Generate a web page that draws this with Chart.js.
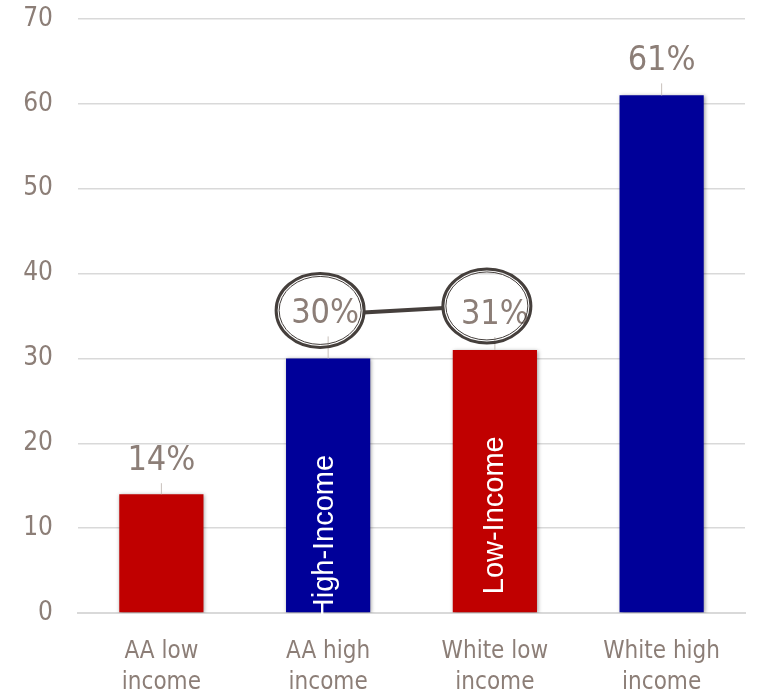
<!DOCTYPE html>
<html>
<head>
<meta charset="utf-8">
<script src="https://cdn.jsdelivr.net/npm/chart.js@4.4.1/dist/chart.umd.min.js"></script>
<style>
  html, body { margin: 0; padding: 0; background: #fff; }
  #wrap { width: 757px; height: 691px; }
</style>
</head>
<body>
<div id="wrap"><canvas id="myChart" width="757" height="691"></canvas></div>
<script>
// DATA

const categories = [["AA low", "income"], ["AA high", "income"], ["White low", "income"], ["White high", "income"]];
const shares = [14, 30, 31, 61];
const barColors = ["#c00000", "#000099", "#c00000", "#000099"];
const yTicks = [0, 10, 20, 30, 40, 50, 60, 70];
const barNotes = ["", "High-Income", "Low-Income", ""];
const circled = [1, 2];

const textColor = "#8c7e77";
const narrow = "'Liberation Sans Narrow', 'DejaVu Sans Condensed', sans-serif";

// PLUGINS

// soft shadow under the bars
const barShadow = {
  id: "barShadow",
  beforeDatasetDraw(chart) {
    const ctx = chart.ctx;
    ctx.save();
    ctx.shadowColor = "rgba(0,0,0,0.4)";
    ctx.shadowBlur = 4;
    ctx.shadowOffsetX = 1;
    ctx.shadowOffsetY = 1;
  },
  afterDatasetDraw(chart) {
    chart.ctx.restore();
  }
};

// value labels above the bars, with a small leader tick
const valueLabels = {
  id: "valueLabels",
  afterDatasetsDraw(chart, args, opts) {
    const ctx = chart.ctx;
    const bars = chart.getDatasetMeta(0).data;
    ctx.save();
    bars.forEach((bar, i) => {
      const lift = opts.lift[i];
      ctx.strokeStyle = "#c8c0bb";
      ctx.lineWidth = 1;
      ctx.beginPath();
      ctx.moveTo(bar.x, bar.y - (lift - 22));
      ctx.lineTo(bar.x, bar.y);
      ctx.stroke();

      ctx.fillStyle = textColor;
      ctx.font = "34px " + narrow;
      ctx.textAlign = "center";
      ctx.textBaseline = "middle";
      ctx.fillText(shares[i] + "%", bar.x - (i === 1 ? 3 : 0), bar.y - lift);
    });
    ctx.restore();
  }
};

// rings round the two middle labels, joined by a bar
const rings = {
  id: "rings",
  afterDatasetsDraw(chart, args, opts) {
    const ctx = chart.ctx;
    const bars = chart.getDatasetMeta(0).data;
    const lift = chart.options.plugins.valueLabels.lift;
    const rx = 44, ry = 37;
    const pts = circled.map((i, k) => ({ x: bars[i].x - 8, y: bars[i].y - lift[i] - opts.dy[k] }));
    ctx.save();
    ctx.strokeStyle = "#453f3c";

    ctx.lineWidth = 4;
    ctx.beginPath();
    ctx.moveTo(pts[0].x + rx - 1, pts[0].y + 2);
    ctx.lineTo(pts[1].x - rx + 1, pts[1].y + 2);
    ctx.stroke();

    pts.forEach(p => {
      ctx.lineWidth = 3;
      ctx.beginPath();
      ctx.ellipse(p.x, p.y, rx, ry, 0, 0, Math.PI * 2);
      ctx.stroke();
      ctx.lineWidth = 1;
      ctx.beginPath();
      ctx.ellipse(p.x, p.y, rx - 3, ry - 3, 0, 0, Math.PI * 2);
      ctx.stroke();
    });
    ctx.restore();
  }
};

// upright notes written inside the bars
const barText = {
  id: "barText",
  afterDatasetsDraw(chart, args, opts) {
    const ctx = chart.ctx;
    const bars = chart.getDatasetMeta(0).data;
    ctx.save();
    ctx.fillStyle = "#ffffff";
    ctx.font = "29px 'Liberation Sans', Arial, sans-serif";
    ctx.textAlign = "left";
    ctx.textBaseline = "middle";
    bars.forEach((bar, i) => {
      if (!barNotes[i]) return;
      ctx.save();
      ctx.translate(bar.x + opts.dx[i], bar.base + opts.start[i]);
      ctx.rotate(-Math.PI / 2);
      ctx.fillText(barNotes[i], 0, 0);
      ctx.restore();
    });
    ctx.restore();
  }
};

// DRAWING GRAPH

const ctx = document.getElementById("myChart").getContext("2d");

new Chart(ctx, {
  type: "bar",
  data: {
    labels: categories,
    datasets: [{
      data: shares,
      backgroundColor: barColors,
      borderWidth: 0,
      barPercentage: 1,
      categoryPercentage: 0.505
    }]
  },
  options: {
    responsive: false,
    animation: false,
    events: [],
    layout: { padding: { top: 19, right: 12, left: 0, bottom: 0 } },
    plugins: {
      legend: { display: false },
      tooltip: { enabled: false },
      valueLabels: { lift: [33, 44, 35, 34] },
      rings: { dy: [4, 9] },
      barText: { start: [0, 7, -18, 0], dx: [0, -3, 0, 0] }
    },
    scales: {
      x: {
        grid: { display: false },
        border: { display: true, color: "#d9d9d9", width: 2 },
        ticks: {
          color: textColor,
          font: { family: narrow, size: 24, lineHeight: 1.3 },
          padding: 15,
          autoSkip: false,
          maxRotation: 0
        },
        afterFit(scale) { scale.height = 78; }
      },
      y: {
        min: 0,
        max: 70,
        afterBuildTicks(scale) { scale.ticks = yTicks.map(v => ({ value: v })); },
        grid: { color: "#d9d9d9", lineWidth: 1.5, drawTicks: false },
        border: { display: false },
        ticks: {
          color: textColor,
          font: { family: narrow, size: 26 },
          padding: 25
        },
        afterFit(scale) {
          scale.width = 78;
          scale.paddingTop = 12;
          scale.paddingBottom = 12;
        }
      }
    }
  },
  plugins: [barShadow, valueLabels, rings, barText]
});
</script>
</body>
</html>
